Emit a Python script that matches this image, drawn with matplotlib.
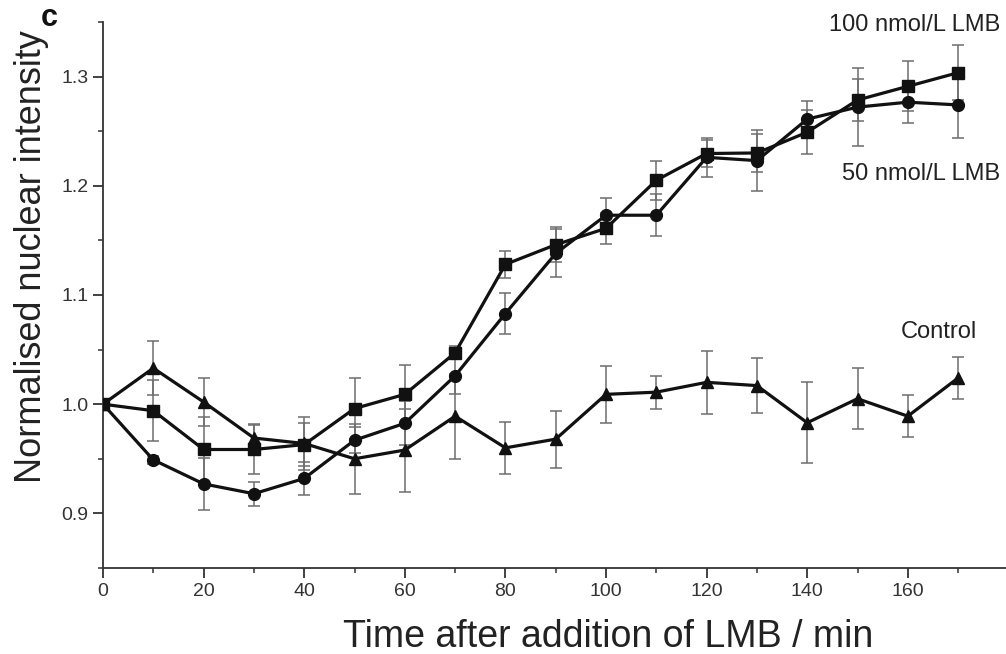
import matplotlib
matplotlib.use("Agg")
import matplotlib.pyplot as plt
from matplotlib.ticker import FixedLocator
import numpy as np

plt.rcParams['font.family'] = ['Liberation Sans', 'DejaVu Sans']

# time after LMB addition (min)
time = np.arange(0, 171, 10)

# 100 nmol/L LMB (squares)
lmb100 = [1.000, 0.994, 0.9585, 0.9585, 0.963, 0.996, 1.009, 1.047, 1.128, 1.146,
          1.161, 1.205, 1.2295, 1.230, 1.249, 1.2785, 1.291, 1.3035]
lmb100_err = [0.0, 0.028, 0.030, 0.022, 0.020, 0.028, 0.027, 0.006, 0.0125, 0.016,
              0.014, 0.018, 0.012, 0.017, 0.020, 0.0195, 0.023, 0.025]

# 50 nmol/L LMB (circles)
lmb50 = [1.000, 0.949, 0.927, 0.918, 0.932, 0.967, 0.9825, 1.026, 1.083, 1.138,
         1.173, 1.173, 1.226, 1.223, 1.261, 1.272, 1.2765, 1.274]
lmb50_err = [0.0, 0.004, 0.024, 0.011, 0.015, 0.012, 0.020, 0.017, 0.019, 0.022,
             0.016, 0.019, 0.018, 0.028, 0.017, 0.036, 0.019, 0.030]

# control (triangles)
control = [1.000, 1.033, 1.002, 0.969, 0.964, 0.950, 0.958, 0.989, 0.960, 0.968,
           1.009, 1.011, 1.020, 1.017, 0.983, 1.005, 0.989, 1.024]
control_err = [0.0, 0.025, 0.022, 0.013, 0.024, 0.032, 0.038, 0.039, 0.024, 0.026,
               0.026, 0.015, 0.029, 0.025, 0.037, 0.028, 0.019, 0.019]

x_major = [0, 20, 40, 60, 80, 100, 120, 140, 160]
x_minor = [10, 30, 50, 70, 90, 110, 130, 150, 170]
y_major = [0.9, 1.0, 1.1, 1.2, 1.3]
y_minor = [0.85, 0.95, 1.05, 1.15, 1.25, 1.35]

fig = plt.figure(figsize=(10.06, 6.54), dpi=100)
# axis runs off the right edge, as in the cropped original
ax = fig.add_axes([0.1024, 0.1315, 0.90, 0.835])

series = [
    (lmb100, lmb100_err, 's', 8),
    (lmb50, lmb50_err, 'o', 8.5),
    (control, control_err, '^', 9),
]
for vals, err, mk, ms in series:
    ax.errorbar(time, vals, yerr=err, fmt='none', ecolor='#6e6e6e',
                elinewidth=1.1, capsize=4, capthick=1.1, zorder=2)
    ax.plot(time, vals, '-', color='#111111', lw=2.3, marker=mk,
            markersize=ms, markerfacecolor='#111111',
            markeredgecolor='#111111', zorder=3)

ax.set_xlim(0, 180)
ax.set_ylim(0.85, 1.35)
ax.xaxis.set_major_locator(FixedLocator(x_major))
ax.xaxis.set_minor_locator(FixedLocator(x_minor))
ax.yaxis.set_major_locator(FixedLocator(y_major))
ax.yaxis.set_minor_locator(FixedLocator(y_minor))
ax.yaxis.set_major_formatter(plt.FuncFormatter(lambda v, p: f"{v:.1f}"))

for s in ['top', 'right']:
    ax.spines[s].set_visible(False)
for s in ['left', 'bottom']:
    ax.spines[s].set_linewidth(1.3)
    ax.spines[s].set_color('#333333')

ax.tick_params(which='major', direction='out', length=7.5, width=1.3,
               labelsize=14, color='#333333', labelcolor='#333333', pad=3)
ax.tick_params(which='minor', direction='out', length=3.6, width=1.1, color='#333333')

ax.set_xlabel('Time after addition of LMB / min', fontsize=27, color='#222222',
              labelpad=14, x=0.558)
ax.set_ylabel('Normalised nuclear intensity', fontsize=26, color='#222222',
              labelpad=9, y=0.571)

ax.text(178.3, 1.347, '100 nmol/L LMB', ha='right', va='center', fontsize=17,
        color='#222222', clip_on=False)
ax.text(178.3, 1.2104, '50 nmol/L LMB', ha='right', va='center', fontsize=17,
        color='#222222', clip_on=False)
ax.text(173.7, 1.066, 'Control', ha='right', va='center', fontsize=17,
        color='#222222', clip_on=False)

fig.text(0.041, 0.972, 'c', fontsize=22, fontweight='bold', color='#111111',
         ha='left', va='center')

fig.savefig('out.png', dpi=100)
